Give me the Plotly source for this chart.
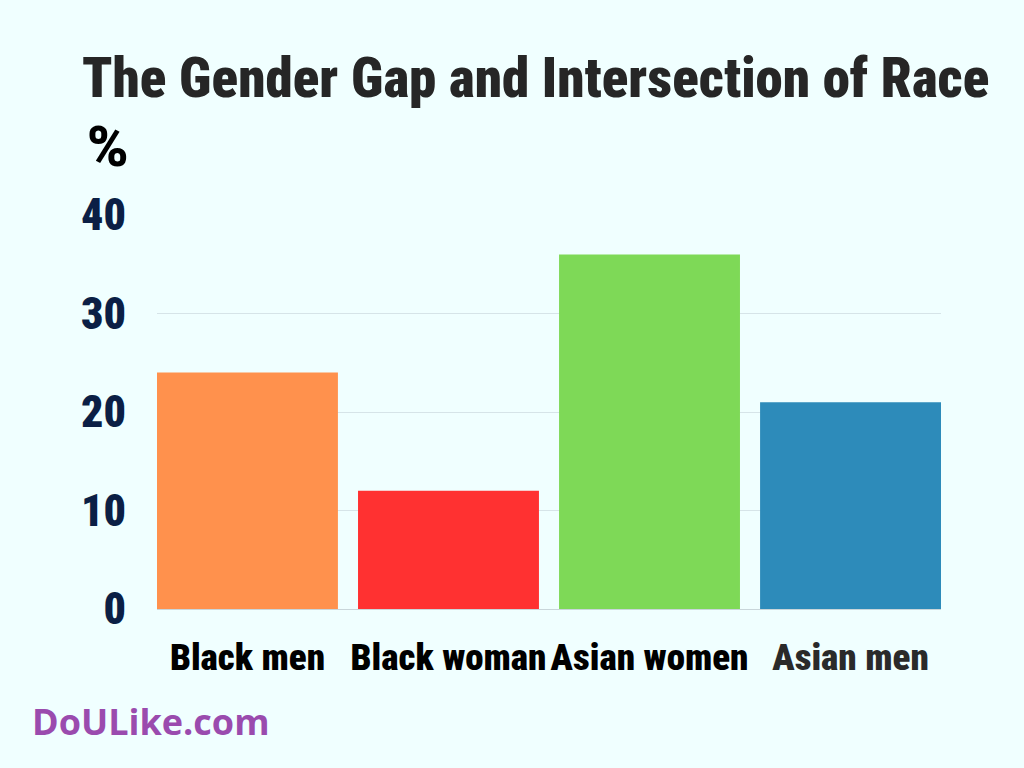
import plotly.graph_objects as go

categories = ["Black men", "Black woman", "Asian women", "Asian men"]
values = [24, 12, 36, 21]
bar_colors = ["#FF914D", "#FF3131", "#7ED957", "#2D8BBA"]
label_colors = ["#000000", "#000000", "#000000", "#2A2A2A"]
y_ticks = [0, 10, 20, 30, 40]

FONT = "Roboto, DejaVu Sans, sans-serif"
COND = "font-stretch:condensed"

PL, PR, PT, PB = 157, 83, 215, 159
PW, PH = 1024 - PL - PR, 768 - PT - PB


def px_x(x):
    return (x - PL) / PW


def px_y(y):
    return (768 - PB - y) / PH


ticktext = [f"<span style='{COND};color:{c}'>{t}</span>" for t, c in zip(categories, label_colors)]

fig = go.Figure(go.Bar(
    x=categories, y=values,
    marker=dict(color=bar_colors, line=dict(width=0)),
    hoverinfo="x+y",
))

fig.update_layout(
    width=1024, height=768,
    paper_bgcolor="#F0FFFF", plot_bgcolor="#F0FFFF",
    margin=dict(l=PL, r=PR, t=PT, b=PB, autoexpand=False),
    bargap=0.1,
    showlegend=False,
    title=dict(text=f"<span style='{COND}'>The Gender Gap and Intersection of Race</span>",
               x=82 / 1024, xanchor="left", y=1 - 78 / 768, yanchor="middle",
               font=dict(family=FONT, size=55, color="#262626", weight=900)),
    xaxis=dict(tickmode="array", tickvals=categories, ticktext=ticktext,
               range=[-0.45, 3.45],
               tickfont=dict(family=FONT, size=37, color="#000000", weight=900),
               tickangle=0, automargin=False,
               showgrid=False, zeroline=False, showline=True, linecolor="#C9D6DA", linewidth=1,
               ticks="", ticklabelstandoff=16),
    yaxis=dict(range=[0, 40], tickvals=y_ticks, automargin=False,
               ticktext=[f"<span style='{COND}'>{v}</span>" for v in y_ticks],
               tickfont=dict(family=FONT, size=44, color="#0B1F45", weight=900),
               showgrid=True, gridcolor="#D6E4E8", gridwidth=1,
               zeroline=False, ticks="", ticklabelstandoff=30),
    annotations=[
        dict(text="%", xref="paper", yref="paper",
             x=px_x(85), y=px_y(147), xanchor="left", yanchor="middle",
             showarrow=False, font=dict(family=FONT, size=56, color="#000000", weight=900)),
        dict(text="<b>DoULike.com</b>", xref="paper", yref="paper",
             x=px_x(30), y=px_y(721), xanchor="left", yanchor="middle",
             showarrow=False, font=dict(family="Open Sans, DejaVu Sans, sans-serif", size=36, color="#9A4BAE")),
    ],
)

fig.write_html("out.html", config={"displayModeBar": False},
               post_script="document.body.style.margin='0';")
